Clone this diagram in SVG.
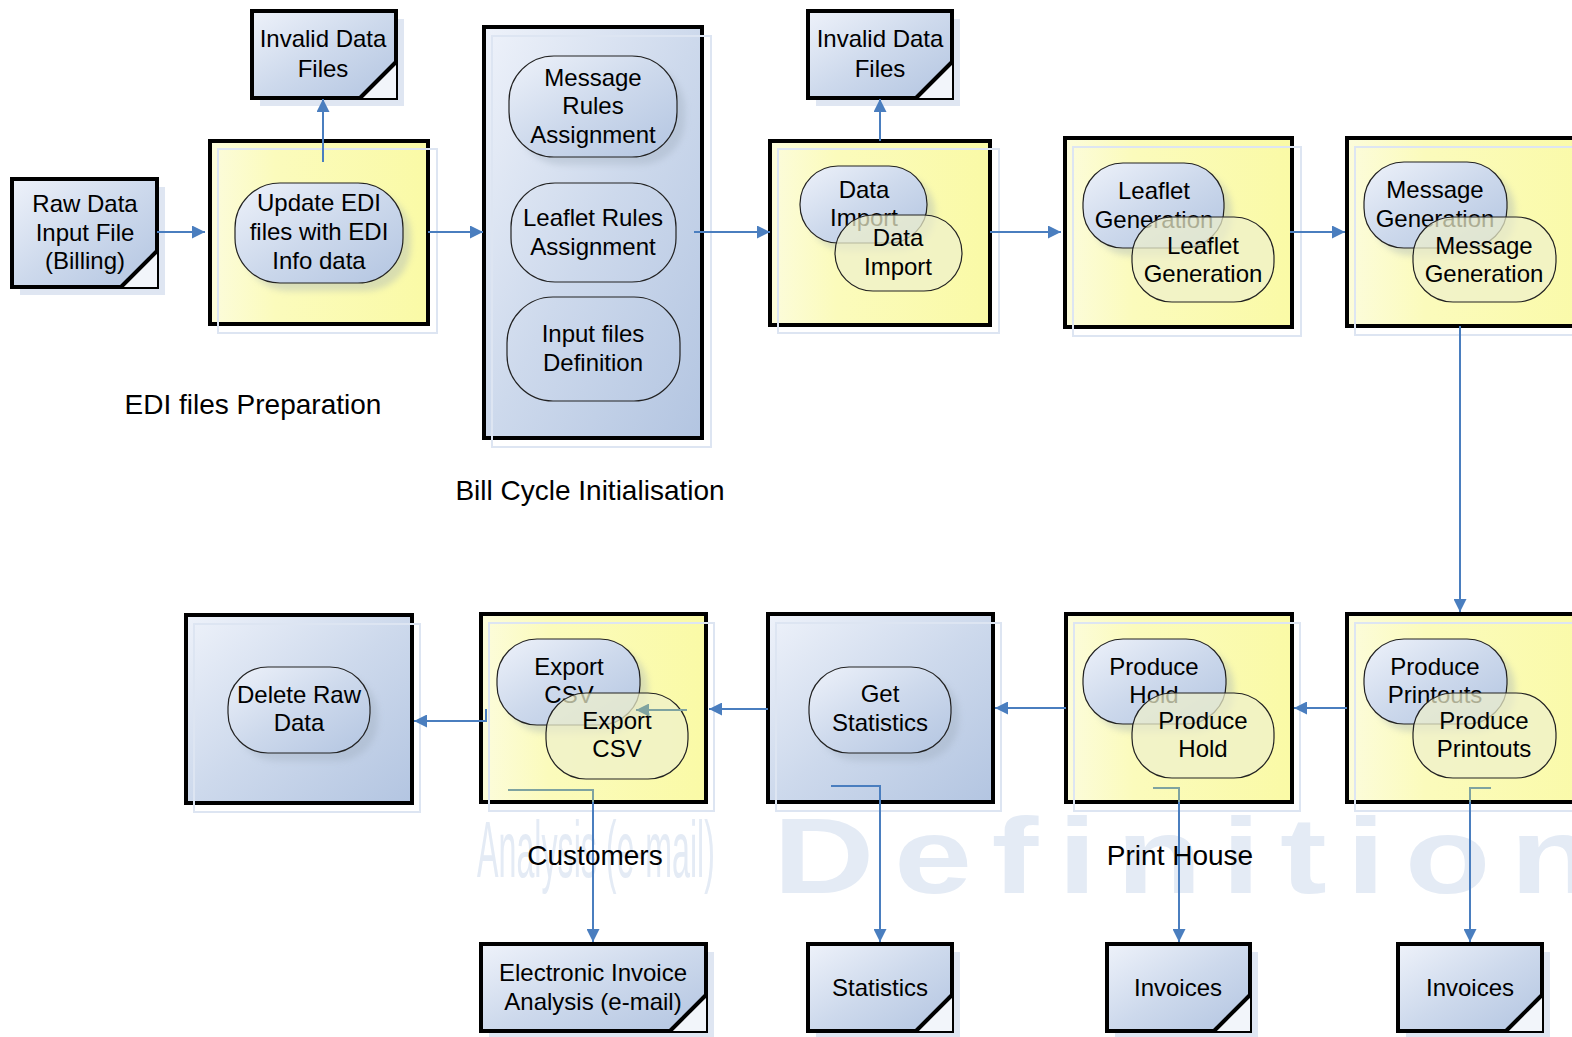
<svg xmlns="http://www.w3.org/2000/svg" width="1572" height="1037" viewBox="0 0 1572 1037">
<defs>
<linearGradient id="gBlue" x1="0" y1="0" x2="1" y2="1">
<stop offset="0" stop-color="#eef2fa"/><stop offset="0.5" stop-color="#cdd9ec"/><stop offset="1" stop-color="#b3c5e1"/>
</linearGradient>
<linearGradient id="gYel" x1="0" y1="0" x2="1" y2="0">
<stop offset="0" stop-color="#fcfcdc"/><stop offset="0.3" stop-color="#fbfbbc"/><stop offset="1" stop-color="#fafaa6"/>
</linearGradient>
<filter id="sh" x="-20%" y="-20%" width="140%" height="140%"><feGaussianBlur stdDeviation="3"/></filter>
<marker id="ah" viewBox="0 0 10 10" refX="10" refY="5" markerWidth="14" markerHeight="13" markerUnits="userSpaceOnUse" orient="auto"><path d="M0,0 L10,5 L0,10 z" fill="#4a7ebf"/></marker>
<marker id="ahg" viewBox="0 0 10 10" refX="10" refY="5" markerWidth="14" markerHeight="13" markerUnits="userSpaceOnUse" orient="auto"><path d="M0,0 L10,5 L0,10 z" fill="#7fa3a0"/></marker>
</defs>
<style>
.t{font-family:"Liberation Sans",Arial,sans-serif;font-size:24px;text-anchor:middle;fill:#000}
.lbl{font-family:"Liberation Sans",Arial,sans-serif;font-size:28px;text-anchor:middle;fill:#000}
.box{stroke:#000;stroke-width:4}
.sho{fill:none;stroke:#dde5f2;stroke-width:2}
.dsh{fill:#dfe6f2}
.st{stroke:#222;stroke-width:1.2}
.ov{fill:#eff0cc;fill-opacity:0.72;stroke:#222;stroke-width:1.2}
.ssh{fill:#9aa8b8;opacity:0.35;filter:url(#sh)}
.cn{fill:none;stroke:#4a7ebf;stroke-width:2}
.cg{fill:none;stroke:#7fa3a0;stroke-width:2}
.cut{fill:#f2f5fa}
.diag{stroke:#000;stroke-width:4}
.wm{fill:#e4ebf5}
</style>
<rect width="1572" height="1037" fill="#fff"/>

<!-- watermarks -->
<text class="wm" transform="translate(773,893) scale(1.3,1)" x="0" y="0" font-family="'Liberation Sans',Arial,sans-serif" font-size="108" font-weight="bold" letter-spacing="15">Definition</text>
<text class="wm" x="477" y="877" font-family="'Liberation Sans',Arial,sans-serif" font-size="80" textLength="238" lengthAdjust="spacingAndGlyphs">Analysis (e-mail)</text>

<!-- documents -->
<g id="doc-raw">
<rect class="dsh" x="20" y="187" width="145" height="108"/>
<rect class="box" x="12" y="179" width="145" height="108" fill="url(#gBlue)"/>
<path class="cut" d="M121,287 L157,287 L157,251 z"/>
<line class="diag" x1="121" y1="287" x2="157" y2="251"/>
<text class="t" x="85" y="212">Raw Data</text><text class="t" x="85" y="241">Input File</text><text class="t" x="85" y="269">(Billing)</text>
</g>
<g id="doc-invalid1">
<rect class="dsh" x="260" y="19" width="144" height="87"/>
<rect class="box" x="252" y="11" width="144" height="87" fill="url(#gBlue)"/>
<path class="cut" d="M360,98 L396,98 L396,62 z"/>
<line class="diag" x1="360" y1="98" x2="396" y2="62"/>
<text class="t" x="323" y="47">Invalid Data</text><text class="t" x="323" y="77">Files</text>
</g>
<g id="doc-invalid2">
<rect class="dsh" x="816" y="19" width="144" height="87"/>
<rect class="box" x="808" y="11" width="144" height="87" fill="url(#gBlue)"/>
<path class="cut" d="M916,98 L952,98 L952,62 z"/>
<line class="diag" x1="916" y1="98" x2="952" y2="62"/>
<text class="t" x="880" y="47">Invalid Data</text><text class="t" x="880" y="77">Files</text>
</g>
<g id="doc-einvoice">
<rect class="dsh" x="489" y="952" width="225" height="87"/>
<rect class="box" x="481" y="944" width="225" height="87" fill="url(#gBlue)"/>
<path class="cut" d="M670,1031 L706,1031 L706,995 z"/>
<line class="diag" x1="670" y1="1031" x2="706" y2="995"/>
<text class="t" x="593" y="981">Electronic Invoice</text><text class="t" x="593" y="1010">Analysis (e-mail)</text>
</g>
<g id="doc-statistics">
<rect class="dsh" x="816" y="952" width="144" height="87"/>
<rect class="box" x="808" y="944" width="144" height="87" fill="url(#gBlue)"/>
<path class="cut" d="M916,1031 L952,1031 L952,995 z"/>
<line class="diag" x1="916" y1="1031" x2="952" y2="995"/>
<text class="t" x="880" y="996">Statistics</text>
</g>
<g id="doc-invoices1">
<rect class="dsh" x="1115" y="952" width="143" height="87"/>
<rect class="box" x="1107" y="944" width="143" height="87" fill="url(#gBlue)"/>
<path class="cut" d="M1214,1031 L1250,1031 L1250,995 z"/>
<line class="diag" x1="1214" y1="1031" x2="1250" y2="995"/>
<text class="t" x="1178" y="996">Invoices</text>
</g>
<g id="doc-invoices2">
<rect class="dsh" x="1406" y="952" width="144" height="87"/>
<rect class="box" x="1398" y="944" width="144" height="87" fill="url(#gBlue)"/>
<path class="cut" d="M1506,1031 L1542,1031 L1542,995 z"/>
<line class="diag" x1="1506" y1="1031" x2="1542" y2="995"/>
<text class="t" x="1470" y="996">Invoices</text>
</g>

<!-- containers -->
<g id="edi-prep">
<rect class="box" x="210" y="141" width="218" height="183" fill="url(#gYel)"/>
<rect class="sho" x="218" y="149" width="219" height="184"/>
<rect class="ssh" x="243" y="191" width="168" height="100" rx="45"/>
<rect class="st" x="235" y="183" width="168" height="100" rx="45" fill="url(#gBlue)"/>
<text class="t" x="319" y="211">Update EDI</text><text class="t" x="319" y="240">files with EDI</text><text class="t" x="319" y="269">Info data</text>
</g>
<g id="bill-cycle">
<rect class="box" x="484" y="27" width="218" height="411" fill="url(#gBlue)"/>
<rect class="sho" x="492" y="36" width="219" height="411"/>
<rect class="ssh" x="517" y="64" width="168" height="101" rx="45"/>
<rect class="st" x="509" y="56" width="168" height="101" rx="45" fill="url(#gBlue)"/>
<text class="t" x="593" y="86">Message</text><text class="t" x="593" y="114">Rules</text><text class="t" x="593" y="143">Assignment</text>
<rect class="st" x="511" y="183" width="165" height="99" rx="44" fill="none"/>
<text class="t" x="593" y="226">Leaflet Rules</text><text class="t" x="593" y="255">Assignment</text>
<rect class="st" x="507" y="297" width="173" height="104" rx="46" fill="none"/>
<text class="t" x="593" y="342">Input files</text><text class="t" x="593" y="371">Definition</text>
</g>
<g id="data-import">
<rect class="box" x="770" y="141" width="220" height="184" fill="url(#gYel)"/>
<rect class="sho" x="778" y="149" width="221" height="184"/>
<rect class="ssh" x="808" y="174" width="127" height="77" rx="38"/>
<rect class="st" x="800" y="166" width="127" height="77" rx="38" fill="url(#gBlue)"/>
<text class="t" x="864" y="198">Data</text><text class="t" x="864" y="226">Import</text>
<rect class="ov" x="835" y="215" width="127" height="76" rx="38"/>
<text class="t" x="898" y="246">Data</text><text class="t" x="898" y="275">Import</text>
</g>
<g id="leaflet-gen">
<rect class="box" x="1065" y="138" width="227" height="189" fill="url(#gYel)"/>
<rect class="sho" x="1073" y="147" width="228" height="189"/>
<rect class="ssh" x="1091" y="171" width="141" height="85" rx="40"/>
<rect class="st" x="1083" y="163" width="141" height="85" rx="40" fill="url(#gBlue)"/>
<text class="t" x="1154" y="199">Leaflet</text><text class="t" x="1154" y="228">Generation</text>
<rect class="ov" x="1132" y="217" width="142" height="85" rx="40"/>
<text class="t" x="1203" y="254">Leaflet</text><text class="t" x="1203" y="282">Generation</text>
</g>
<g id="message-gen">
<rect class="box" x="1347" y="138" width="260" height="188" fill="url(#gYel)"/>
<rect class="sho" x="1355" y="147" width="260" height="188"/>
<rect class="ssh" x="1372" y="170" width="143" height="86" rx="40"/>
<rect class="st" x="1364" y="162" width="143" height="86" rx="40" fill="url(#gBlue)"/>
<text class="t" x="1435" y="198">Message</text><text class="t" x="1435" y="227">Generation</text>
<rect class="ov" x="1413" y="217" width="143" height="85" rx="40"/>
<text class="t" x="1484" y="254">Message</text><text class="t" x="1484" y="282">Generation</text>
</g>
<g id="produce-printouts">
<rect class="box" x="1347" y="614" width="260" height="188" fill="url(#gYel)"/>
<rect class="sho" x="1355" y="623" width="260" height="188"/>
<rect class="ssh" x="1372" y="647" width="143" height="85" rx="40"/>
<rect class="st" x="1364" y="639" width="143" height="85" rx="40" fill="url(#gBlue)"/>
<text class="t" x="1435" y="675">Produce</text><text class="t" x="1435" y="703">Printouts</text>
<rect class="ov" x="1413" y="693" width="143" height="85" rx="40"/>
<text class="t" x="1484" y="729">Produce</text><text class="t" x="1484" y="757">Printouts</text>
</g>
<g id="produce-hold">
<rect class="box" x="1066" y="614" width="226" height="188" fill="url(#gYel)"/>
<rect class="sho" x="1074" y="623" width="226" height="188"/>
<rect class="ssh" x="1091" y="647" width="143" height="85" rx="40"/>
<rect class="st" x="1083" y="639" width="143" height="85" rx="40" fill="url(#gBlue)"/>
<text class="t" x="1154" y="675">Produce</text><text class="t" x="1154" y="703">Hold</text>
<rect class="ov" x="1132" y="693" width="142" height="85" rx="40"/>
<text class="t" x="1203" y="729">Produce</text><text class="t" x="1203" y="757">Hold</text>
</g>
<g id="get-statistics">
<rect class="box" x="768" y="614" width="225" height="188" fill="url(#gBlue)"/>
<rect class="sho" x="776" y="623" width="225" height="188"/>
<rect class="ssh" x="817" y="675" width="142" height="86" rx="40"/>
<rect class="st" x="809" y="667" width="142" height="86" rx="40" fill="url(#gBlue)"/>
<text class="t" x="880" y="702">Get</text><text class="t" x="880" y="731">Statistics</text>
</g>
<g id="export-csv">
<rect class="box" x="481" y="614" width="225" height="188" fill="url(#gYel)"/>
<rect class="sho" x="489" y="623" width="225" height="188"/>
<rect class="ssh" x="505" y="647" width="143" height="86" rx="40"/>
<rect class="st" x="497" y="639" width="143" height="86" rx="40" fill="url(#gBlue)"/>
<text class="t" x="569" y="675">Export</text><text class="t" x="569" y="703">CSV</text>
<rect class="ov" x="546" y="693" width="142" height="86" rx="40"/>
<text class="t" x="617" y="729">Export</text><text class="t" x="617" y="757">CSV</text>
</g>
<g id="delete-raw">
<rect class="box" x="186" y="615" width="226" height="188" fill="url(#gBlue)"/>
<rect class="sho" x="194" y="624" width="226" height="188"/>
<rect class="ssh" x="236" y="675" width="142" height="86" rx="40"/>
<rect class="st" x="228" y="667" width="142" height="86" rx="40" fill="url(#gBlue)"/>
<text class="t" x="299" y="703">Delete Raw</text><text class="t" x="299" y="731">Data</text>
</g>

<!-- connectors -->
<g id="connectors">
<line class="cn" x1="157" y1="232" x2="205" y2="232" marker-end="url(#ah)"/>
<line class="cn" x1="323" y1="162" x2="323" y2="99" marker-end="url(#ah)"/>
<line class="cn" x1="428" y1="232" x2="483" y2="232" marker-end="url(#ah)"/>
<line class="cn" x1="694" y1="232" x2="770" y2="232" marker-end="url(#ah)"/>
<line class="cn" x1="880" y1="141" x2="880" y2="99" marker-end="url(#ah)"/>
<line class="cn" x1="990" y1="232" x2="1061" y2="232" marker-end="url(#ah)"/>
<line class="cn" x1="1290" y1="232" x2="1345" y2="232" marker-end="url(#ah)"/>
<line class="cn" x1="1460" y1="326" x2="1460" y2="612" marker-end="url(#ah)"/>
<line class="cn" x1="1347" y1="708" x2="1294" y2="708" marker-end="url(#ah)"/>
<line class="cn" x1="1066" y1="708" x2="995" y2="708" marker-end="url(#ah)"/>
<line class="cn" x1="768" y1="709" x2="709" y2="709" marker-end="url(#ah)"/>
<line class="cg" x1="687" y1="710" x2="636" y2="710" marker-end="url(#ahg)"/>
<path class="cn" d="M486,709 V721 H414" marker-end="url(#ah)"/>
<path class="cg" d="M508,790 H593 V802"/>
<path class="cn" d="M593,802 V942" marker-end="url(#ah)"/>
<path class="cn" d="M831,786 H880 V942" marker-end="url(#ah)"/>
<path class="cg" d="M1153,788 H1179 V802"/>
<path class="cn" d="M1179,802 V942" marker-end="url(#ah)"/>
<path class="cg" d="M1491,788 H1470 V802"/>
<path class="cn" d="M1470,802 V942" marker-end="url(#ah)"/>
</g>

<!-- labels -->
<text class="lbl" x="253" y="414">EDI files Preparation</text>
<text class="lbl" x="590" y="500">Bill Cycle Initialisation</text>
<text class="lbl" x="595" y="865">Customers</text>
<text class="lbl" x="1180" y="865">Print House</text>
</svg>
